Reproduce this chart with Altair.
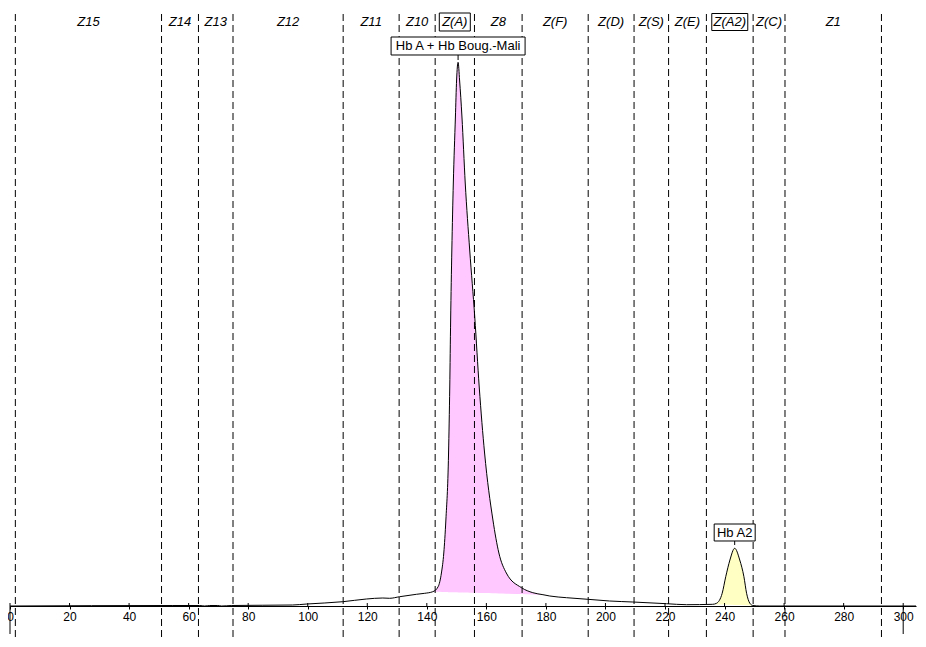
import altair as alt
import pandas as pd

# ---- data ----
trace_x = [0, 54.7, 63.7, 65.4, 67.1, 69.8, 71.1, 74.5, 94.9, 99.7,
           111.8, 119.7, 125.2, 127.5, 130.9, 136.5, 139.3, 142.0, 143.8, 144.9,
           145.7, 146.4, 147.3, 147.7, 148.0, 148.4, 148.9, 149.6, 150.0, 150.5,
           151.0, 151.8, 152.9, 154.4, 156.1, 157.6, 159.4, 162.2, 164.2, 166.7,
           171.8, 175.6, 179.0, 181.3, 186.9, 194.1, 201.4, 209.2, 220.5, 227.2,
           236.0, 237.3, 239.2, 240.4, 241.8, 243.4, 245.1, 246.5, 247.4, 248.5,
           249.5, 251.8, 304.3]
trace_y = [0, 0.5, 0.5, 0, 0.5, 0.5, 0, 0.5, 1, 2,
           4.3, 7, 8, 7.7, 9.3, 11.7, 12.7, 14.3, 19.3, 33,
           53, 86, 153, 219, 286, 356, 423, 489, 526, 543.7,
           526, 489, 423, 356, 289, 219, 153, 86, 53, 33,
           18.3, 13.3, 11.3, 10, 8.3, 6.7, 5, 4, 2.3, 1.3,
           1.7, 2.7, 12.7, 29.3, 46, 57.7, 46, 29.3, 12.7, 2.7,
           0.5, 0, 0]

zone_bounds = [1.8, 50.9, 63.3, 74.9, 111.9, 130.7, 142.8, 156.0, 172.0,
               194.2, 209.6, 221.2, 233.9, 249.6, 260.3, 292.7]
zone_names = ["Z15", "Z14", "Z13", "Z12", "Z11", "Z10", "Z(A)", "Z8", "Z(F)",
              "Z(D)", "Z(S)", "Z(E)", "Z(A2)", "Z(C)", "Z1"]

tick_values = [0, 20, 40, 60, 80, 100, 120, 140, 160, 180, 200, 220, 240, 260, 280, 300]
end_marks = [0, 300]

# integration baselines of the two peaks (start x, start y, end x, end y)
peakA_base = (142.0, 14.3, 179.0, 11.3)
peakA2_base = (236.0, 1.7, 249.5, 0.5)

peak_labels = ["Hb A + Hb Boug.-Mali", "Hb A2"]
peak_pos = [150.5, 243.4]

# ---- tables ----
trace = pd.DataFrame({"x": trace_x, "y": trace_y})

def fill_df(base):
    x0, y0, x1, y1 = base
    d = trace[(trace.x >= x0) & (trace.x <= x1)].copy()
    d["y2"] = y0 + (y1 - y0) * (d.x - x0) / (x1 - x0)
    return d

fillA = fill_df(peakA_base)
fillA2 = fill_df(peakA2_base)

bounds = pd.DataFrame({"x": zone_bounds})
zones = pd.DataFrame({
    "name": zone_names,
    "x": [(zone_bounds[i] + zone_bounds[i + 1]) / 2 for i in range(len(zone_names))],
})
ticks = pd.DataFrame({"x": tick_values})
ends = pd.DataFrame({"x": end_marks})

W, H = 906, 594
xs = alt.Scale(domain=[0, 304.3], nice=False, zero=False)
ys = alt.Scale(domain=[0, 594], nice=False, zero=False)
FONT = "Liberation Sans"

XAXIS = alt.Axis(values=tick_values, title=None, grid=False,
                 labelFont=FONT, labelFontSize=12, labelColor="black",
                 domainColor="black", tickColor="black", tickSize=3,
                 labelPadding=2, labelFlush=False, labelOverlap=False)
X = alt.X("x:Q", scale=xs, axis=XAXIS)
Y = alt.Y("y:Q", scale=ys, axis=None)

areaA = alt.Chart(fillA).mark_area(color="#FFC8FF", interpolate="monotone").encode(
    x=X, y=Y, y2="y2:Q")
areaA2 = alt.Chart(fillA2).mark_area(color="#FFFFC4", interpolate="monotone").encode(
    x=X, y=Y, y2="y2:Q")

dashes = alt.Chart(bounds).mark_rule(color="black", strokeWidth=1, strokeDash=[7, 4]).encode(
    x=X, y=alt.value(2), y2=alt.value(628))

line = alt.Chart(trace).mark_line(color="black", strokeWidth=1, interpolate="monotone").encode(
    x=X, y=Y)

ticks_up = alt.Chart(ticks).mark_rule(color="black").encode(
    x=X, y=alt.value(H - 3), y2=alt.value(H))
ends_down = alt.Chart(ends).mark_rule(color="black").encode(
    x=X, y=alt.value(H), y2=alt.value(H + 28))

def box(df, w, h, yv):
    r = h / w
    path = f"M-1,-{r:.4f}L1,-{r:.4f}L1,{r:.4f}L-1,{r:.4f}Z"
    return alt.Chart(df).mark_point(shape=path, size=w * w, filled=False, fill="white",
                                    fillOpacity=1, stroke="black", strokeWidth=1, opacity=1).encode(
        x=X, y=alt.value(yv))

zA = box(zones[zones.name == "Z(A)"], 31, 18, 10)
zA2 = box(zones[zones.name == "Z(A2)"], 36, 17, 10)

zone_text = alt.Chart(zones).mark_text(font=FONT, fontSize=13, fontStyle="italic",
                                       color="black", baseline="middle").encode(
    x=X, y=alt.value(10), text="name:N")

pA = pd.DataFrame({"x": [peak_pos[0]], "t": [peak_labels[0]]})
pA2 = pd.DataFrame({"x": [peak_pos[1]], "t": [peak_labels[1]]})

connA = alt.Chart(pA).mark_rule(color="black").encode(x=X, y=alt.value(43), y2=alt.value(48))
connA2 = alt.Chart(pA2).mark_rule(color="black").encode(x=X, y=alt.value(529), y2=alt.value(533))
bA = box(pA, 134, 18, 34)
bA2 = box(pA2, 41, 17, 520.5)
tA = alt.Chart(pA).mark_text(font=FONT, fontSize=13, color="black", baseline="middle").encode(
    x=X, y=alt.value(34), text="t:N")
tA2 = alt.Chart(pA2).mark_text(font=FONT, fontSize=13, color="black", baseline="middle").encode(
    x=X, y=alt.value(520.5), text="t:N")

chart = alt.layer(areaA, areaA2, dashes, line, ticks_up, ends_down,
                  zA, zA2, zone_text, connA, connA2, bA, bA2, tA, tA2).properties(
    width=W, height=H,
    background="white",
    autosize=alt.AutoSizeParams(type="none"),
    padding={"left": 2, "top": 4, "right": 2, "bottom": 36},
).configure_view(stroke=None)

chart.save("out.html", embed_options={"renderer": "svg", "actions": False})
